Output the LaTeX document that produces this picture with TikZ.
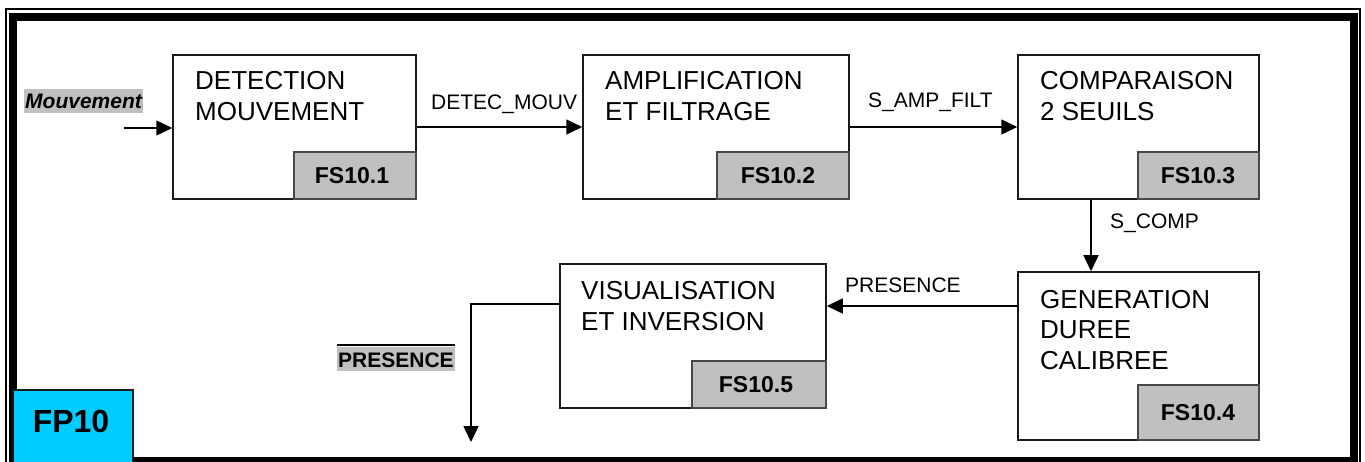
\documentclass[tikz,border=0pt]{standalone}
\usepackage{fontspec}
\setmainfont{Liberation Sans}
\usetikzlibrary{arrows.meta,calc}
\definecolor{tagGray}{HTML}{C0C0C0}
\definecolor{fpCyan}{HTML}{00CCFF}
\definecolor{edge}{HTML}{1A1A1A}
\tikzset{
  blockbox/.style={draw=edge, line width=1.5pt, fill=white, inner sep=0pt},
  tagbox/.style={draw=edge!80, line width=1.5pt, fill=tagGray, inner sep=0pt},
  blocktext/.style={anchor=base west, inner sep=0pt, align=left,
    font=\fontsize{26}{30.5}\selectfont},
  tagtext/.style={anchor=base, inner sep=0pt, font=\fontsize{23}{26}\selectfont\bfseries},
  sigtext/.style={anchor=base west, inner sep=0pt, font=\fontsize{21}{24}\selectfont},
  arr/.style={draw=black, line width=1.5pt, -{Triangle[length=16pt,width=15pt]}},
  iolabel/.style={anchor=base west, fill=tagGray, inner xsep=1pt, inner ysep=1pt,
    text height=19pt, text depth=3pt, font=\fontsize{21}{24}\selectfont\bfseries}
}
\begin{document}
\begin{tikzpicture}[x=1pt,y=-1pt]
\useasboundingbox (0,0) rectangle (1365,462);

% double frame round the whole function
\draw[line width=1.2pt] (6,9) rectangle (1360,480);
\draw[line width=7.5pt] (13,17) rectangle (1354,461);

% function blocks
\node[blockbox, minimum width=243pt, minimum height=144pt] (b1) at (294.5,127) {};
\node[blockbox, minimum width=266pt, minimum height=144pt] (b2) at (716,127) {};
\node[blockbox, minimum width=241pt, minimum height=144pt] (b3) at (1138.5,127) {};
\node[blockbox, minimum width=241pt, minimum height=168pt] (b4) at (1138.5,356) {};
\node[blockbox, minimum width=266pt, minimum height=144pt] (b5) at (693,336) {};

% reference tags in the lower right corner of each block
\node[tagbox, minimum width=122pt, minimum height=47pt] (t1) at (355,175.5) {};
\node[tagbox, minimum width=132pt, minimum height=47pt] (t2) at (783,175.5) {};
\node[tagbox, minimum width=121pt, minimum height=47pt] (t3) at (1198.5,175.5) {};
\node[tagbox, minimum width=121pt, minimum height=55pt] (t4) at (1198.5,412.5) {};
\node[tagbox, minimum width=134pt, minimum height=47pt] (t5) at (759,384.5) {};
\node[tagtext] (t1x) at (352,183.5) {FS10.1};
\node[tagtext] (t2x) at (778,183.5) {FS10.2};
\node[tagtext] (t3x) at (1198,183.5) {FS10.3};
\node[tagtext] (t4x) at (1198,420.5) {FS10.4};
\node[tagtext] (t5x) at (756,392.5) {FS10.5};

% block titles (anchored on the baseline of their last line)
\node[blocktext] (b1x) at (195,120.5) {DETECTION\\MOUVEMENT};
\node[blocktext] (b2x) at (605,120.5) {AMPLIFICATION\\ET FILTRAGE};
\node[blocktext] (b3x) at (1040,120.5) {COMPARAISON\\2 SEUILS};
\node[blocktext] (b4x) at (1040,369) {GENERATION\\DUREE\\CALIBREE};
\node[blocktext] (b5x) at (581,330.5) {VISUALISATION\\ET INVERSION};

% signal names
\node[sigtext] (s1) at (431,110) {DETEC\_MOUV};
\node[sigtext] (s2) at (868,108) {S\_AMP\_FILT};
\node[sigtext] (s3) at (1110,229) {S\_COMP};
\node[sigtext] (s4) at (845,293) {PRESENCE};

% input and output of the function
\node[iolabel, font=\fontsize{21}{24}\selectfont\bfseries\itshape] (inl) at (24,109) {Mouvement};
\node[iolabel] (outl) at (337,367) {PRESENCE};
\draw[line width=2pt] ([yshift=2pt]outl.north west) -- ([yshift=2pt]outl.north east);

\coordinate (inp) at (124,128);
\coordinate (c34) at (1091,0);
\coordinate (c45) at (0,306);
\coordinate (c5o) at (0,304);
\coordinate (outp) at (471,442);

% connectors
\draw[arr] (inp) -- (inp -| b1.west);
\draw[arr] (b1.east) -- (b2.west);
\draw[arr] (b2.east) -- (b3.west);
\draw[arr] (c34 |- b3.south) -- (c34 |- b4.north);
\draw[arr] (c45 -| b4.west) -- (c45 -| b5.east);
\draw[arr] (c5o -| b5.west) -| (outp);

% function label
\node[draw=edge, line width=1.2pt, fill=fpCyan, minimum width=120pt, minimum height=80pt,
  inner sep=0pt] (fp) at (73,430) {};
\node[anchor=base, inner sep=0pt, font=\fontsize{32}{36}\selectfont\bfseries] (fpx) at (71,432) {FP10};
\end{tikzpicture}
\end{document}
